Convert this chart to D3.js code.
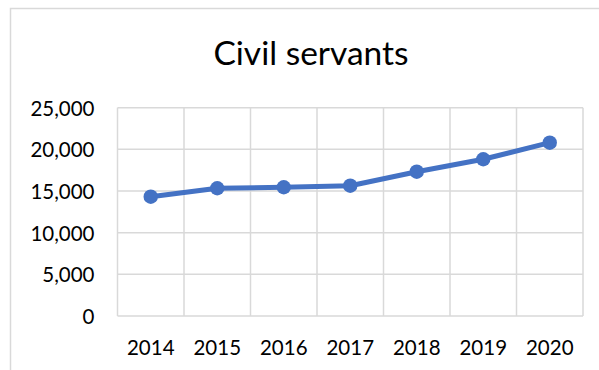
<!DOCTYPE html>
<html><head><meta charset="utf-8">
<script src="https://cdn.jsdelivr.net/npm/d3@7"></script>
<style>body{margin:0;background:#fff;}svg{display:block;}</style>
</head><body>
<script>
const title = "Civil servants";
const years = ["2014","2015","2016","2017","2018","2019","2020"];
const values = [14320, 15330, 15450, 15640, 17320, 18810, 20800];
const yTicks = [0, 5000, 10000, 15000, 20000, 25000];

(function(){
const W = 599, H = 370;
const svg = d3.select("body").append("svg").attr("width", W).attr("height", H);
const font = "Lato, 'Open Sans', sans-serif";

// outer chart border (cropped)
svg.append("path").attr("d", "M10.5,380 L10.5,8.5 L610,8.5")
  .attr("fill","none").attr("stroke","#d9d9d9").attr("stroke-width",1.5);

svg.append("text").attr("x", 311).attr("y", 65).attr("text-anchor","middle")
  .attr("font-family", font).attr("font-size", 33.5).attr("fill","#000").text(title);

const pL = 117.5, pR = 583, pT = 107.7, pB = 316;
const x = d3.scaleBand().domain(years).range([pL, pR]);
const y = d3.scaleLinear().domain([0, 25000]).range([pB, pT]);

const grid = svg.append("g");
grid.selectAll("line.h").data(yTicks).join("line").attr("class","h")
  .attr("x1", pL).attr("x2", pR).attr("y1", d=>y(d)).attr("y2", d=>y(d))
  .attr("stroke","#d9d9d9").attr("stroke-width",1.5);
const vx = years.map(d=>x(d)).concat([pR]);
grid.selectAll("line.v").data(vx).join("line").attr("class","v")
  .attr("x1", d=>d).attr("x2", d=>d).attr("y1", pT).attr("y2", pB)
  .attr("stroke","#d9d9d9").attr("stroke-width",1.5);

const yAxis = d3.axisLeft(y).tickValues(yTicks).tickFormat(d3.format(",")).tickSize(0).tickPadding(0);
const ga = svg.append("g").attr("transform", `translate(94.5,0)`).call(yAxis);
ga.select(".domain").remove();
ga.selectAll("text").attr("font-family", font).attr("font-size", 20.5).attr("fill","#000").attr("dy","0.36em");

const xAxis = d3.axisBottom(x).tickSize(0).tickPadding(0);
const gx = svg.append("g").attr("transform", `translate(0,340)`).call(xAxis);
gx.select(".domain").remove();
gx.selectAll("text").attr("font-family", font).attr("font-size", 20.5).attr("fill","#000").attr("dy","0.71em");

const data = years.map((d,i)=>({year:d, v:values[i]}));
const line = d3.line().x(d=>x(d.year)+x.bandwidth()/2).y(d=>y(d.v));
svg.append("path").datum(data).attr("d", line).attr("fill","none")
  .attr("stroke","#4472C4").attr("stroke-width",5).attr("stroke-linejoin","round");
svg.selectAll("circle.pt").data(data).join("circle").attr("class","pt")
  .attr("cx", d=>x(d.year)+x.bandwidth()/2).attr("cy", d=>y(d.v)).attr("r", 7.2)
  .attr("fill","#4472C4");
})();
</script>
</body></html>
